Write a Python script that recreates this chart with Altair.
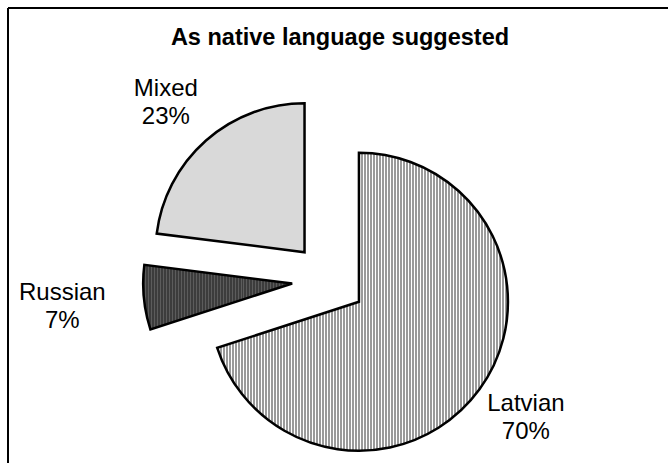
import altair as alt
import pandas as pd

# ---- data ----
categories = ["Latvian", "Russian", "Mixed"]
values = [70, 7, 23]
order = [0, 1, 2]
TITLE = "As native language suggested"

# ---- layout / style constants ----
W, H = 668, 463
CX, CY = 329, 280          # pie centre
R = 149                    # pie radius
EXPLODE = 37               # explosion distance
# label placement (distance from slice apex, angle in degrees clockwise from 12 o'clock)
label_r = {"Latvian": 196, "Russian": 230, "Mixed": 214}
label_a = {"Latvian": 121.6, "Russian": 267.6, "Mixed": 319.6}
FONT = "Liberation Sans"


def stripes(c1, c2, n, frac):
    stops = []
    for i in range(n):
        a = i / n
        m = (i + frac) / n
        b = (i + 1) / n
        stops += [alt.GradientStop(color=c1, offset=a), alt.GradientStop(color=c1, offset=m),
                  alt.GradientStop(color=c2, offset=m), alt.GradientStop(color=c2, offset=b)]
    return alt.LinearGradient(gradient="linear", stops=stops, x1=0, x2=1, y1=0, y2=0)


fills = {
    "Latvian": stripes("#9a9a9a", "#ffffff", 97, 2 / 3),
    "Russian": stripes("#3c3c3c", "#5c5c5c", 50, 2 / 3),
    "Mixed": "#d9d9d9",
}

df = pd.DataFrame({
    "category": categories,
    "value": values,
    "order": order,
    "label_r": [label_r[c] for c in categories],
    "label_a": [label_a[c] for c in categories],
})

base = (
    alt.Chart(df)
    .transform_window(cum="sum(value)", sort=[alt.SortField("order")], frame=[None, 0])
    .transform_joinaggregate(total="sum(value)")
    .transform_calculate(t1="2*PI*datum.cum/datum.total")
    .transform_calculate(t0="2*PI*(datum.cum-datum.value)/datum.total")
    .transform_calculate(mid="(datum.t0+datum.t1)/2")
    .transform_calculate(cx=f"{CX}+{EXPLODE}*sin(datum.mid)")
    .transform_calculate(cy=f"{CY}-{EXPLODE}*cos(datum.mid)")
    .transform_calculate(la="datum.label_a*PI/180")
    .transform_calculate(lx="datum.cx+datum.label_r*sin(datum.la)")
    .transform_calculate(ly="datum.cy-datum.label_r*cos(datum.la)")
    .transform_calculate(lbl="[datum.category, datum.value + '%']")
)

arcs = []
for c in categories:
    arcs.append(
        base.transform_filter(alt.datum.category == c)
        .mark_arc(radius=R, fill=fills[c], stroke="black", strokeWidth=2.5, strokeJoin="miter")
        .encode(
            theta=alt.Theta("t0:Q", scale=None),
            theta2="t1:Q",
            x=alt.X("cx:Q", scale=None),
            y=alt.Y("cy:Q", scale=None),
        )
    )

labels = base.mark_text(
    font=FONT, fontSize=24, lineHeight=28, align="center", baseline="middle", color="black"
).encode(
    x=alt.X("lx:Q", scale=None),
    y=alt.Y("ly:Q", scale=None),
    text="lbl:N",
)

title = alt.Chart(pd.DataFrame({"t": [TITLE]})).mark_text(
    font=FONT, fontSize=23.5, fontWeight="bold", align="center", baseline="alphabetic", color="black"
).encode(x=alt.value(340), y=alt.value(45), text="t:N")

one = pd.DataFrame({"k": [0]})
frame_left = alt.Chart(one).mark_rule(color="black", strokeWidth=2).encode(
    x=alt.value(8), y=alt.value(8), y2=alt.value(H + 10)
)
frame_top = alt.Chart(one).mark_rule(color="black", strokeWidth=2).encode(
    x=alt.value(8), x2=alt.value(W + 10), y=alt.value(8)
)

chart = (
    alt.layer(frame_left, frame_top, title, *arcs, labels)
    .properties(width=W, height=H, padding=0, autosize="none")
    .configure_view(strokeWidth=0)
)

chart.save("out.html", embed_options={"renderer": "svg", "actions": False})
